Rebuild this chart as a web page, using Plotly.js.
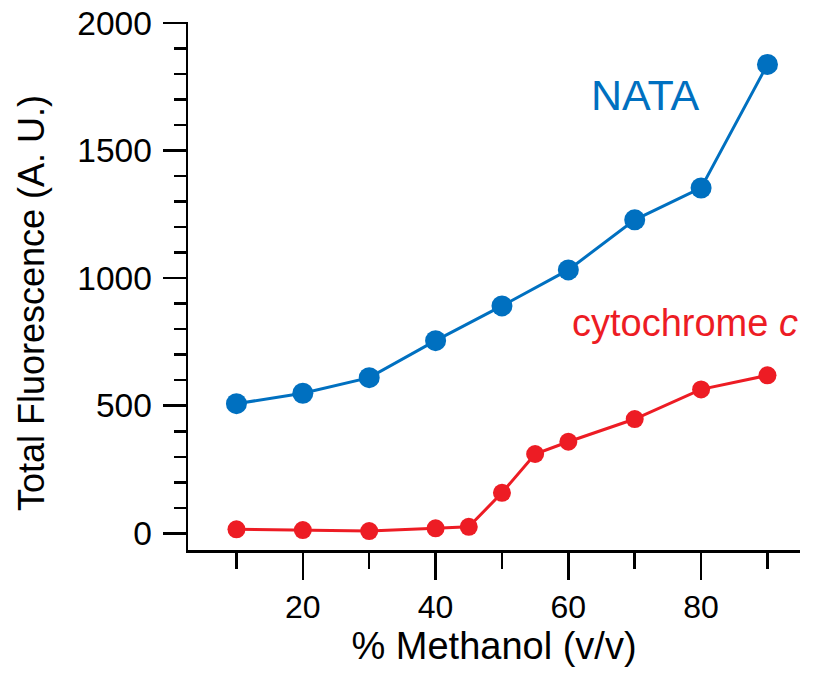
<!DOCTYPE html>
<html>
<head>
<meta charset="utf-8">
<script src="https://cdn.plot.ly/plotly-3.0.1.min.js"></script>
<style>html,body{margin:0;padding:0;background:#fff;}#chart{width:819px;height:674px;}</style>
</head>
<body>
<div id="chart"></div>
<script>
// Data
const nataX = [10, 20, 30, 40, 50, 60, 70, 80, 90];
const nataY = [508, 549, 610, 755, 891, 1032, 1228, 1353, 1837];
const cytX = [10, 20, 30, 40, 45, 50, 55, 60, 70, 80, 90];
const cytY = [16, 13, 9, 20, 26, 159, 311, 359, 448, 564, 619];
const xTickVals = [20, 40, 60, 80];
const yTickVals = [0, 500, 1000, 1500, 2000];

const BLUE = '#0070C0';
const RED = '#ED1C24';
const FONT = 'Arial, "Liberation Sans", Helvetica, sans-serif';

const traces = [
  {x: nataX, y: nataY, mode: 'lines+markers', type: 'scatter', name: 'NATA',
   line: {color: BLUE, width: 3}, marker: {color: BLUE, size: 21}, cliponaxis: false},
  {x: cytX, y: cytY, mode: 'lines+markers', type: 'scatter', name: 'cytochrome c',
   line: {color: RED, width: 3}, marker: {color: RED, size: 18}, cliponaxis: false}
];

const layout = {
  width: 819, height: 674,
  margin: {l: 188, r: 19, t: 22, b: 124},
  paper_bgcolor: '#fff', plot_bgcolor: '#fff',
  showlegend: false,
  font: {family: FONT, color: '#000', size: 32},
  xaxis: {
    range: [2.7, 94.9], showgrid: false, zeroline: false,
    showline: true, linecolor: '#000', linewidth: 2.5,
    tickmode: 'array', tickvals: xTickVals, ticktext: xTickVals.map(String),
    ticks: 'outside', ticklen: 27, tickwidth: 2.5, tickcolor: '#000',
    tickfont: {size: 32, family: FONT},
    minor: {tickmode: 'linear', tick0: 0, dtick: 10, ticks: 'outside', ticklen: 16, tickwidth: 2.5, tickcolor: '#000'},
    title: {text: '% Methanol (v/v)', font: {size: 38, family: FONT}, standoff: 6}
  },
  yaxis: {
    range: [-65, 2003], showgrid: false, zeroline: false,
    showline: true, linecolor: '#000', linewidth: 2.5,
    tickmode: 'array', tickvals: yTickVals, ticktext: yTickVals.map(String),
    ticks: 'outside', ticklen: 23, tickwidth: 2.5, tickcolor: '#000',
    tickfont: {size: 33.5, family: FONT}, ticklabelstandoff: 4,
    minor: {tickmode: 'linear', tick0: 0, dtick: 100, ticks: 'outside', ticklen: 12, tickwidth: 2.5, tickcolor: '#000'}
  },
  annotations: [
    {text: 'Total Fluorescence (A. U.)', xref: 'paper', yref: 'paper', x: -0.2555, y: 0.467,
     textangle: -90, showarrow: false, xanchor: 'center', yanchor: 'middle',
     font: {size: 36, family: FONT, color: '#000'}},
    {text: 'NATA', xref: 'paper', yref: 'paper', x: 0.748, y: 0.862,
     showarrow: false, xanchor: 'center', yanchor: 'middle',
     font: {size: 43, family: FONT, color: BLUE}},
    {text: 'cytochrome <i>c</i>', xref: 'paper', yref: 'paper', x: 0.812, y: 0.43,
     showarrow: false, xanchor: 'center', yanchor: 'middle',
     font: {size: 38, family: FONT, color: RED}}
  ]
};

Plotly.newPlot('chart', traces, layout, {displayModeBar: false, staticPlot: true});
</script>
</body>
</html>
